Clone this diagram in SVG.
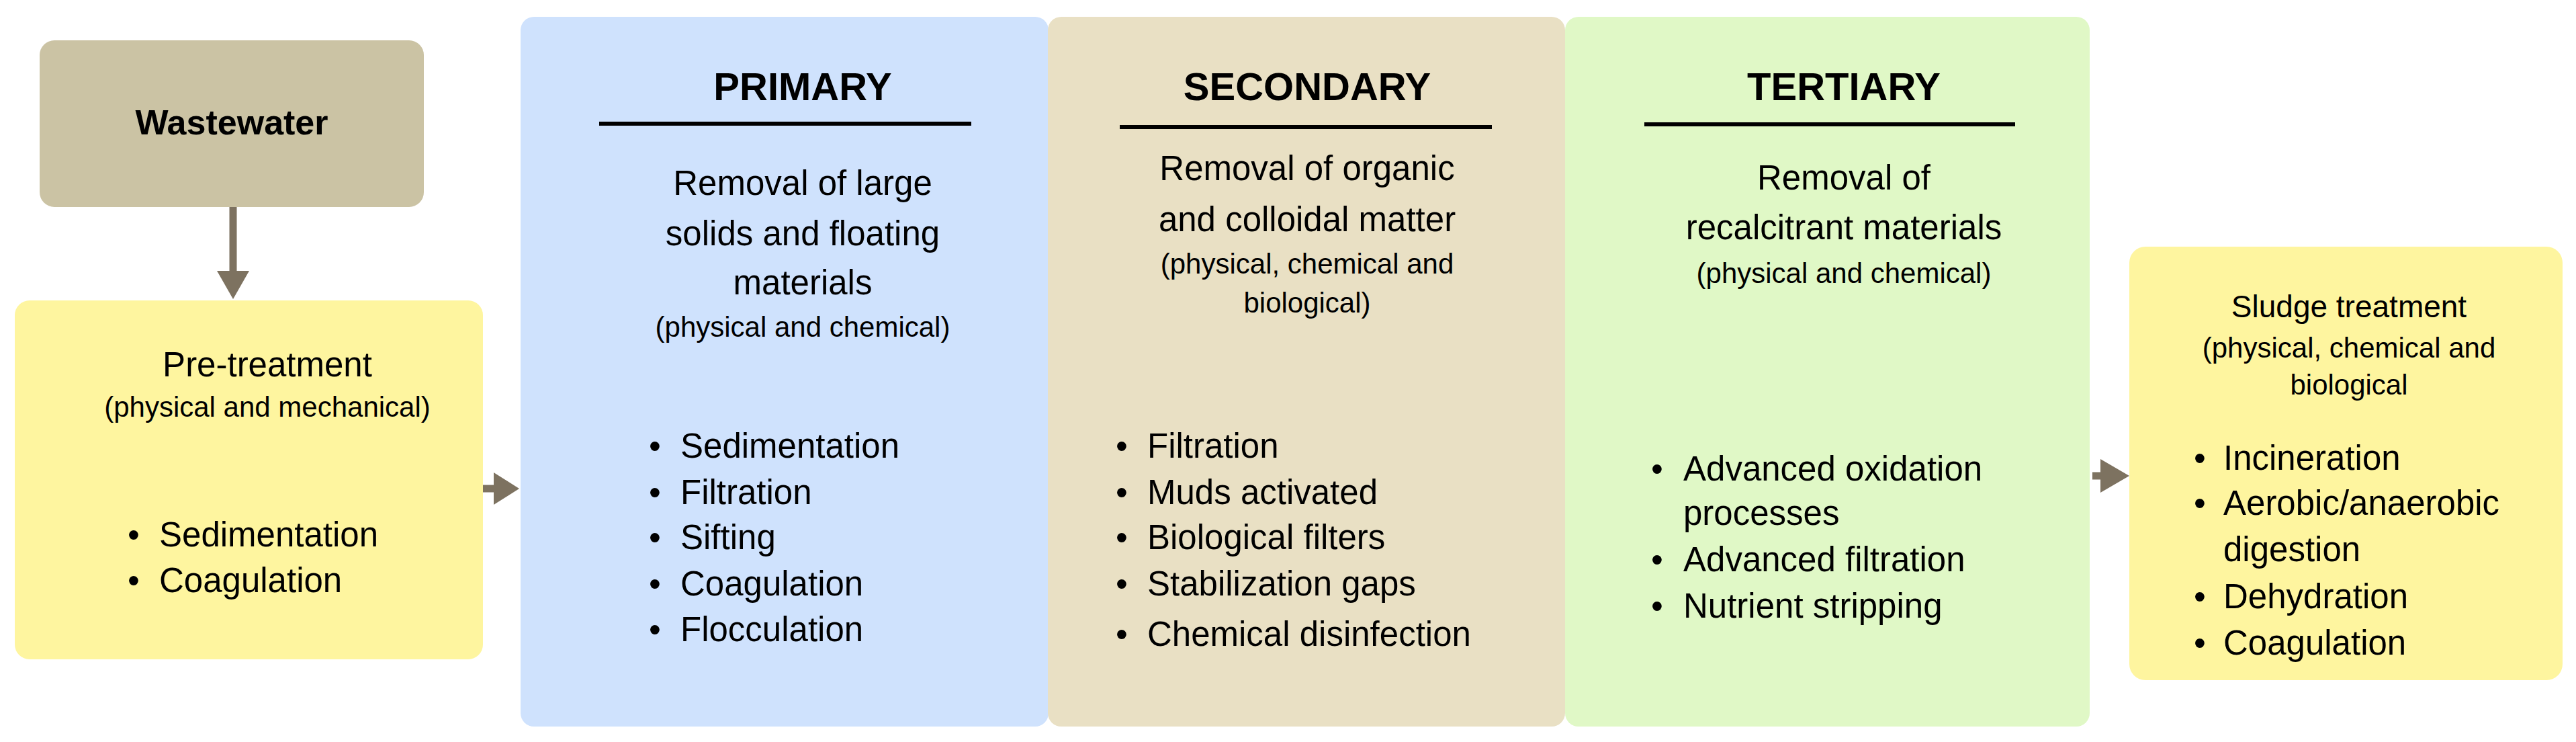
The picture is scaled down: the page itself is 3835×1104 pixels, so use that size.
<svg xmlns="http://www.w3.org/2000/svg" width="3835" height="1104" viewBox="0 0 3835 1104">
<style>
text{font-family:"Liberation Sans",Arial,sans-serif;fill:#000}
.t{font-size:51px;text-anchor:middle}
.s{font-size:42px;text-anchor:middle}
.h{font-size:58px;font-weight:bold;text-anchor:middle}
.b{font-size:51px}
.rule{stroke:#000;stroke-width:6}
.c{stroke:#7d7260;stroke-width:11;fill:none}
.ah{fill:#7d7260}
</style>
<rect width="3835" height="1104" fill="#fff"/>
<g id="wastewater"><rect x="59" y="60" width="572" height="248" rx="22" fill="#cbc3a4"/><text x="345" y="200" style="font-size:52px;font-weight:bold;text-anchor:middle">Wastewater</text></g>
<g id="pretreatment"><rect x="22" y="447" width="697" height="534" rx="22" fill="#fef59f"/>
<text class="t" x="398" y="560">Pre-treatment</text><text class="s" x="398" y="620">(physical and mechanical)</text>
<text class="b" x="190" y="813">•</text><text class="b" x="237" y="813">Sedimentation</text>
<text class="b" x="190" y="881">•</text><text class="b" x="237" y="881">Coagulation</text></g>
<g id="primary"><rect x="775" y="25" width="786" height="1056" rx="20" fill="#cfe2fd"/>
<text class="h" x="1195" y="149">PRIMARY</text><line class="rule" x1="892" y1="184" x2="1446" y2="184"/>
<text class="t" x="1195" y="290">Removal of large</text><text class="t" x="1195" y="365">solids and floating</text><text class="t" x="1195" y="438">materials</text>
<text class="s" x="1195" y="501">(physical and chemical)</text>
<g class="b"><text class="b" x="966" y="681">•</text><text class="b" x="1013" y="681">Sedimentation</text>
<text class="b" x="966" y="750">•</text><text class="b" x="1013" y="750">Filtration</text>
<text class="b" x="966" y="817">•</text><text class="b" x="1013" y="817">Sifting</text>
<text class="b" x="966" y="886">•</text><text class="b" x="1013" y="886">Coagulation</text>
<text class="b" x="966" y="954">•</text><text class="b" x="1013" y="954">Flocculation</text></g></g>
<g id="secondary"><rect x="1560" y="25" width="770" height="1056" rx="20" fill="#e9e0c4"/>
<text class="h" x="1946" y="149">SECONDARY</text><line class="rule" x1="1667" y1="189" x2="2221" y2="189"/>
<text class="t" x="1946" y="268">Removal of organic</text><text class="t" x="1946" y="344">and colloidal matter</text>
<text class="s" x="1946" y="407">(physical, chemical and</text><text class="s" x="1946" y="465">biological)</text>
<text class="b" x="1661" y="681">•</text><text class="b" x="1708" y="681">Filtration</text>
<text class="b" x="1661" y="750">•</text><text class="b" x="1708" y="750">Muds activated</text>
<text class="b" x="1661" y="817">•</text><text class="b" x="1708" y="817">Biological filters</text>
<text class="b" x="1661" y="886">•</text><text class="b" x="1708" y="886">Stabilization gaps</text>
<text class="b" x="1661" y="961">•</text><text class="b" x="1708" y="961">Chemical disinfection</text></g>
<g id="tertiary"><rect x="2330" y="25" width="781" height="1056" rx="20" fill="#e0f8c6"/>
<text class="h" x="2745" y="149">TERTIARY</text><line class="rule" x1="2448" y1="185" x2="3000" y2="185"/>
<text class="t" x="2745" y="282">Removal of</text><text class="t" x="2745" y="356">recalcitrant materials</text>
<text class="s" x="2745" y="421">(physical and chemical)</text>
<text class="b" x="2458" y="715">•</text><text class="b" x="2506" y="715">Advanced oxidation</text>
<text class="b" x="2506" y="781">processes</text>
<text class="b" x="2458" y="850">•</text><text class="b" x="2506" y="850">Advanced filtration</text>
<text class="b" x="2458" y="919">•</text><text class="b" x="2506" y="919">Nutrient stripping</text></g>
<g id="sludge"><rect x="3170" y="367" width="645" height="645" rx="24" fill="#fef59f"/>
<text class="t" x="3497" y="472" style="font-size:46px">Sludge treatment</text>
<text class="s" x="3497" y="532">(physical, chemical and</text><text class="s" x="3497" y="587">biological</text>
<text class="b" x="3266" y="699">•</text><text class="b" x="3310" y="699">Incineration</text>
<text class="b" x="3266" y="766">•</text><text class="b" x="3310" y="766">Aerobic/anaerobic</text>
<text class="b" x="3310" y="835">digestion</text>
<text class="b" x="3266" y="905">•</text><text class="b" x="3310" y="905">Dehydration</text>
<text class="b" x="3266" y="974">•</text><text class="b" x="3310" y="974">Coagulation</text></g>
<g id="connectors">
<line class="c" x1="347" y1="308" x2="347" y2="405"/><polygon class="ah" points="323,403 371,403 347,445"/>
<line class="c" x1="719" y1="727" x2="738" y2="727"/><polygon class="ah" points="735,703 735,751 773,727"/>
<line class="c" x1="3115" y1="708" x2="3130" y2="708"/><polygon class="ah" points="3127,683 3127,733 3170,708"/>
</g>
</svg>
